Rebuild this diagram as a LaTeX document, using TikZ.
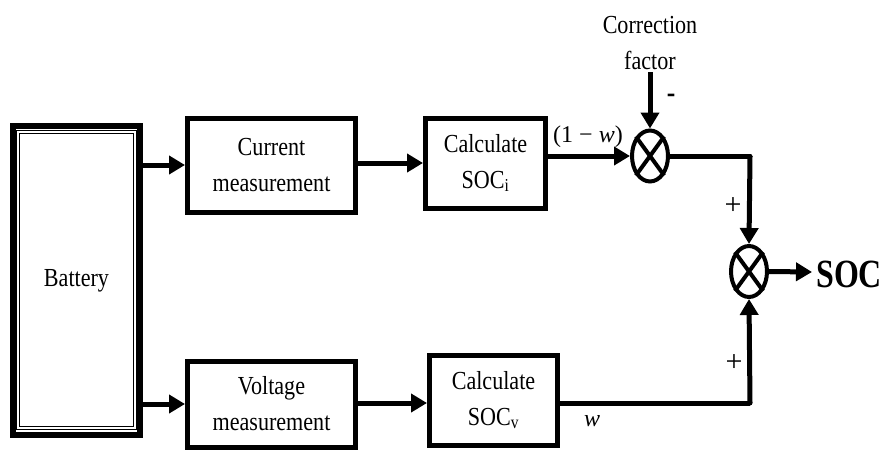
\documentclass[tikz,border=0pt]{standalone}
\usepackage{fontspec}
\setmainfont[FakeStretch=0.85]{Liberation Serif}
\newfontfamily\mathish{Liberation Serif}
\newfontfamily\socfont[FakeStretch=0.8]{Liberation Serif}
\usetikzlibrary{arrows.meta,shapes.geometric}
\begin{document}
\begin{tikzpicture}[x=1pt,y=-1pt,
  blk/.style={draw,line width=5pt,rectangle,inner sep=0pt,align=center,
    font=\fontsize{26}{36}\selectfont},
  mult/.style={draw,line width=4pt,ellipse,inner sep=0pt,minimum width=36pt,minimum height=51pt},
  conn/.style={line width=5pt},
  arr/.style={conn,-{Triangle[length=16pt,width=18pt]}},
  lbl/.style={font=\fontsize{26}{36}\selectfont,inner sep=0pt},
  plus/.style={font=\mathish\fontsize{30}{36}\selectfont,inner sep=0pt}]
\useasboundingbox (0,0) rectangle (883,450);
% battery
\node[draw,line width=6pt,rectangle,inner sep=0pt,minimum width=127pt,minimum height=309pt,
  font=\fontsize{26}{36}\selectfont] (bat) at (76.5,280.5) {Battery};
\draw[double,line width=0.8pt,double distance=1.6pt] (18,132) rectangle (135,428);
% blocks
\node[blk,minimum width=168pt,minimum height=94pt] (cur) at (271.5,165) {Current\\measurement};
\node[blk,minimum width=120pt,minimum height=90pt] (ci) at (485.5,163) {Calculate\\SOC\textsubscript{i}};
\node[blk,minimum width=168pt,minimum height=86pt] (vol) at (271.5,404) {Voltage\\measurement};
\node[blk,minimum width=128pt,minimum height=90pt] (cv) at (493.5,400) {Calculate\\SOC\textsubscript{v}};
% multipliers
\node[mult] (m1) at (650,156) {};
\node[mult] (m2) at (749,271.5) {};
\foreach \m in {m1,m2}{
  \draw[line width=4pt] (\m.north west) -- (\m.south east);
  \draw[line width=4pt] (\m.north east) -- (\m.south west);
}
% correction factor
\node[lbl,align=center] (cf) at (650,43) {Correction\\factor};
\coordinate (cft) at (650,72);
\draw[arr] (cft) -- (m1.north);
\node[font=\bfseries\fontsize{30}{30}\selectfont,inner sep=0pt] (minus) at (671,98) {-};
% connections
\draw[arr] (bat.east |- cur) -- (cur.west);
\draw[arr] (bat.east |- vol) -- (vol.west);
\draw[arr] (cur.east |- ci) -- (ci.west);
\draw[arr] (vol.east |- 0,403) -- (cv.west |- 0,403);
\draw[arr] (ci.east |- m1) -- (m1.west);
\coordinate (tr) at (750,156);
\coordinate (br) at (750,403);
\draw[conn,line cap=round] (m1.east) -- (tr);
\draw[arr] (tr) -- (m2.north);
\draw[conn] (cv.east |- br) -- (br);
\draw[arr,line cap=round] (br) -- (m2.south);
\coordinate (out) at (812,272);
\draw[arr] (m2.east) -- (out);
\node[font=\socfont\bfseries\fontsize{40}{44}\selectfont,inner sep=0pt,anchor=west] (soc) at (816,274) {SOC};
% labels
\node[lbl,font=\mathish\fontsize{24}{30}\selectfont] (l1) at (588,137) {(1 − \textit{w})};
\node[lbl,font=\mathish\fontsize{24}{30}\selectfont] (l2) at (592,421) {\textit{w}};
\node[plus] (p1) at (733,206) {+};
\node[plus] (p2) at (734,363) {+};
\end{tikzpicture}
\end{document}
